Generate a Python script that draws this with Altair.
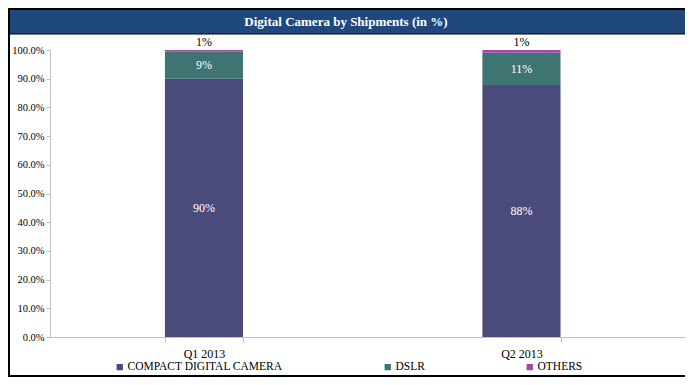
import altair as alt
import pandas as pd

quarters = ["Q1 2013", "Q2 2013"]
segments = ["COMPACT DIGITAL CAMERA", "DSLR", "OTHERS"]
compact = [90.0, 87.8]
dslr = [9.4, 11.2]
others = [0.6, 1.0]
colors = ["#4a4a7b", "#3e7472", "#a04aa0"]
title_text = "Digital Camera by Shipments (in %)"
y_ticks = [0, 10, 20, 30, 40, 50, 60, 70, 80, 90, 100]

rows = []
for i, q in enumerate(quarters):
    for j, (s, v) in enumerate(zip(segments, [compact[i], dslr[i], others[i]])):
        rows.append({"quarter": q, "segment": s, "value": v, "order": j})
df = pd.DataFrame(rows)

FONT = "Liberation Serif"
PL = 42  # left padding
W = 635

base = alt.Chart(df).transform_stack(
    stack="value", groupby=["quarter"], as_=["y0", "y1"],
    sort=[alt.SortField("order", order="ascending")]
)

x_scale = alt.Scale(paddingInner=0.754, paddingOuter=0.377, align=0.48)
x_axis = alt.Axis(labelAngle=0, tickBand="extent", domainColor="#BFBFBF",
                  tickColor="#BFBFBF", tickSize=5, labelPadding=6,
                  labelFontSize=12, labelFont=FONT, labelColor="black")
y_scale = alt.Scale(domain=[0, 100])
y_axis = alt.Axis(values=y_ticks,
                  labelExpr="format(datum.value, '.1f') + '%'",
                  labelOverlap=False, tickCount=11,
                  grid=False, domainColor="#BFBFBF", tickColor="#BFBFBF",
                  tickSize=4, labelPadding=2, labelFontSize=10.5,
                  labelFont=FONT, labelColor="black")


def X():
    return alt.X("quarter:N", title=None, sort=quarters, scale=x_scale, axis=x_axis)


def Y(field):
    return alt.Y(field, title=None, scale=y_scale, axis=y_axis)


bars = base.mark_bar().encode(
    x=X(),
    y=Y("y0:Q"),
    y2="y1:Q",
    color=alt.Color(
        "segment:N",
        scale=alt.Scale(domain=segments, range=colors),
        legend=alt.Legend(orient="none", legendX=64, legendY=311,
                          direction="horizontal", title=None,
                          symbolType="square", symbolSize=40,
                          columnPadding=99, labelFont=FONT,
                          labelFontSize=11.5, labelOffset=2,
                          labelLimit=300,
                          symbolStrokeWidth=0, labelColor="black"),
    ),
)

inner = base.transform_filter("datum.order < 2").transform_calculate(
    mid="(datum.y0 + datum.y1) / 2",
    label="format(datum.value, '.0f') + '%'",
).mark_text(color="white", font=FONT, fontSize=12).encode(
    x=X(), y=Y("mid:Q"), text="label:N"
)

top = base.transform_filter("datum.order == 2").transform_calculate(
    label="format(datum.value, '.0f') + '%'",
).mark_text(color="black", font=FONT, fontSize=12, baseline="bottom", dy=-1).encode(
    x=X(), y=Y("y1:Q"), text="label:N"
)

one = pd.DataFrame({"k": [0]})
titlebar = alt.Chart(one).mark_rect(fill="#1f497d", stroke="black", strokeWidth=1).encode(
    x=alt.value(-PL + 1), x2=alt.value(W + 1), y=alt.value(-41), y2=alt.value(-16)
)
titletext = alt.Chart(one).mark_text(
    text=title_text, color="white", fontWeight="bold", font=FONT, fontSize=13
).encode(x=alt.value(346 - PL - 8), y=alt.value(-28))
border = alt.Chart(one).mark_rect(filled=False, stroke="black", strokeWidth=2).encode(
    x=alt.value(-PL + 1), x2=alt.value(W + 1), y=alt.value(-41), y2=alt.value(326)
)

chart = alt.layer(titlebar, titletext, bars, inner, top, border).properties(
    width=W, height=287,
    autosize=alt.AutoSizeParams(type="none"),
    padding={"left": PL, "top": 42, "right": 677 - PL - W, "bottom": 40},
).configure_view(stroke=None)

chart.save("out.html", embed_options={"renderer": "svg", "actions": False})
